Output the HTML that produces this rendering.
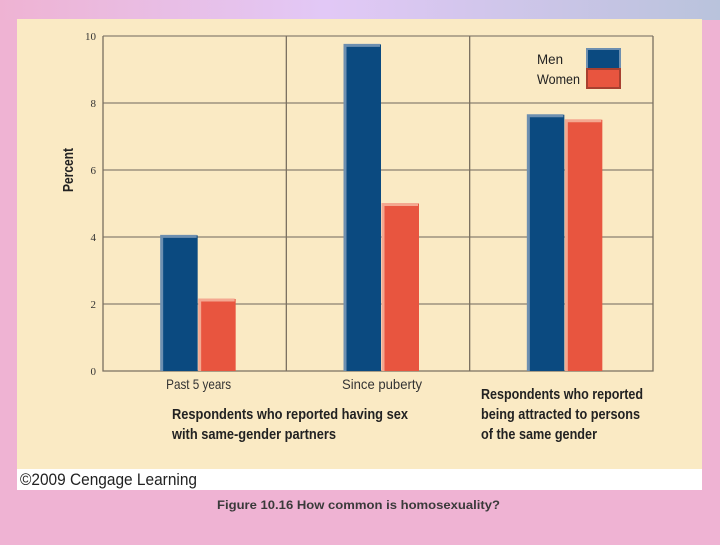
<!DOCTYPE html>
<html><head><meta charset="utf-8"><style>
body{margin:0;width:720px;height:540px;overflow:hidden;background:#efb3d3;font-family:"Liberation Sans",sans-serif}
</style></head><body>
<svg width="720" height="540" viewBox="0 0 720 540" xmlns="http://www.w3.org/2000/svg">
<defs><linearGradient id="tg" x1="0" x2="1"><stop offset="0" stop-color="#efb3d3"/><stop offset="0.45" stop-color="#e2c8f6"/><stop offset="1" stop-color="#b9c3dc"/></linearGradient></defs>
<rect x="0" y="0" width="720" height="20" fill="url(#tg)"/>
<rect x="17" y="19" width="685" height="451" fill="#faeac4"/>
<rect x="17" y="469" width="685" height="21" fill="#ffffff"/>
<text x="20" y="485" font-size="17" fill="#222" textLength="177" lengthAdjust="spacingAndGlyphs">©2009 Cengage Learning</text>
<text x="217" y="509" font-size="12" font-weight="bold" fill="#3a3a3a" textLength="283" lengthAdjust="spacingAndGlyphs">Figure 10.16  How common is homosexuality?</text>
<g id="plot"></g>
</svg>
<script>
const ticks=[0,2,4,6,8,10];
const groups=["Past 5 years","Since puberty",""];
const men=[4.05,9.75,7.65];
const women=[2.15,5.0,7.5];
const NS="http://www.w3.org/2000/svg";
const g=document.getElementById('plot');
const L=103,R=653,T=36,B=371,ymax=10;
const y=v=>B-(B-T)*v/ymax;
const cellW=(R-L)/3;
const NF='Liberation Sans,sans-serif';
function mk(t,a){const e=document.createElementNS(NS,t);for(const k in a)e.setAttribute(k,a[k]);g.appendChild(e);return e;}
ticks.forEach(t=>{
 if(t>0){const l=mk('line',{x1:L,x2:R,y1:y(t),y2:y(t),stroke:'#8a8070','stroke-width':1.2});
 
 }
 const tx=mk('text',{x:96,y:y(t)+4,'text-anchor':'end','font-size':11,fill:'#333','font-family':'Liberation Serif,serif'});tx.textContent=t;
 
 
});
const ax=mk('path',{d:`M${L} ${T}V${B}H${R}V${T}M${L+cellW} ${T}V${B}M${L+2*cellW} ${T}V${B}`,stroke:'#7a7060','stroke-width':1.3,fill:'none'});


function bar(x,v,c,edge,name){
 const r=mk('rect',{x:x,y:y(v),width:37,height:B-y(v),fill:c});
 
 
 const e=mk('path',{d:`M${x+1} ${B}V${y(v)+1}H${x+36}`,stroke:edge,'stroke-width':3,fill:'none'});
 
 
}
const gw=[65,80,0];
men.forEach((v,i)=>{
 const cx=L+cellW*i+cellW/2+4;
 bar(cx-38,v,'#0b4a80','#6d8fb0','bar-men-'+i);
 bar(cx,women[i],'#e8553f','#f4a890','bar-women-'+i);
 if(groups[i]){const t=mk('text',{x:cx-gw[i]/2,y:389,'font-size':14,fill:'#333','font-family':NF,textLength:gw[i],lengthAdjust:'spacingAndGlyphs'});t.textContent=groups[i];
 
 }
});
function lines(x,y0,arr,ws,name){arr.forEach((s,i)=>{const t=mk('text',{x:x,y:y0+i*20,'font-size':15,'font-weight':'bold',fill:'#222','font-family':NF,textLength:ws[i],lengthAdjust:'spacingAndGlyphs'});t.textContent=s;
 
 });}
lines(172,419,["Respondents who reported having sex","with same-gender partners"],[236,164],'group-label-sex');
lines(481,399,["Respondents who reported","being attracted to persons","of the same gender"],[162,159,116],'group-label-attracted');
const p=mk('text',{x:-22,y:0,'font-size':15,'font-weight':'bold',fill:'#222','font-family':NF,textLength:44,lengthAdjust:'spacingAndGlyphs',transform:'translate(73,170) rotate(-90)'});p.textContent='Percent';


const lm=mk('rect',{x:587,y:49,width:33,height:20,fill:'#0b4a80',stroke:'#6d8fb0','stroke-width':2});


const lw=mk('rect',{x:587,y:69,width:33,height:19,fill:'#e8553f',stroke:'#a84030','stroke-width':2});


const t1=mk('text',{x:537,y:64,'font-size':14,fill:'#222','font-family':NF,textLength:26,lengthAdjust:'spacingAndGlyphs'});t1.textContent='Men';


const t2=mk('text',{x:537,y:84,'font-size':14,fill:'#222','font-family':NF,textLength:43,lengthAdjust:'spacingAndGlyphs'});t2.textContent='Women';


</script>
</body></html>
